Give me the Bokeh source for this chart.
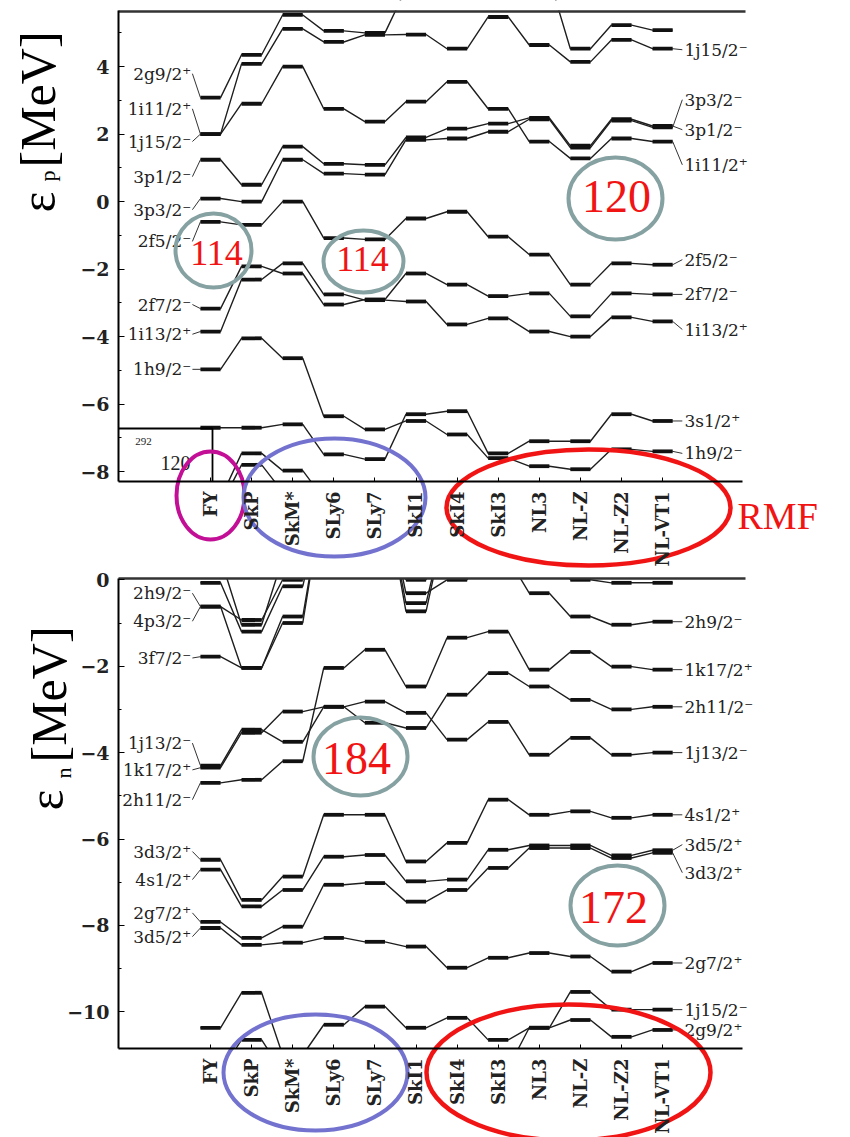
import numpy as np
from bokeh.plotting import figure
from bokeh.models import Range1d, FixedTicker, SingleIntervalTicker, LinearAxis
from bokeh.embed import file_html
from bokeh.resources import INLINE
from bokeh.core.properties import value

# ---------------- data ----------------
models = ["FY", "SkP", "SkM*", "SLy6", "SLy7", "SkI1", "SkI4", "SkI3",
          "NL3", "NL-Z", "NL-Z2", "NL-VT1"]

# proton single-particle energies (MeV), one value per model
p_2g9_2  = [3.08, 4.35, 5.53, 5.06, 5.00, 6.30, 6.60, 6.90, 6.60, 4.53, 5.23, 5.08]
p_1j15_2 = [2.00, 4.08, 5.12, 4.73, 4.94, 4.95, 4.53, 5.47, 4.64, 4.14, 4.79, 4.53]
p_1i11_2 = [2.00, 2.90, 4.00, 2.75, 2.37, 2.96, 3.55, 2.75, 1.78, 1.28, 1.87, 1.78]
p_3p1_2  = [1.24, 0.50, 1.63, 1.12, 1.09, 1.90, 2.16, 2.31, 2.48, 1.66, 2.44, 2.24]
p_3p3_2  = [0.09, 0.00, 1.24, 0.83, 0.80, 1.83, 1.87, 2.07, 2.44, 1.60, 2.40, 2.20]
p_2f5_2  = [-0.60, -0.69, 0.00, -1.08, -1.12, -0.50, -0.30, -1.04, -1.57, -2.46, -1.83, -1.87]
p_2f7_2  = [-3.17, -1.92, -2.13, -3.05, -2.90, -2.13, -2.46, -2.80, -2.72, -3.40, -2.72, -2.75]
p_1i13_2 = [-3.85, -2.31, -1.83, -2.75, -2.92, -2.96, -3.64, -3.46, -3.85, -4.00, -3.43, -3.55]
p_1h9_2  = [-4.97, -4.05, -4.64, -6.36, -6.75, -6.50, -6.90, -7.60, -7.84, -7.93, -7.34, -7.40]
p_3s1_2  = [-6.70, -6.70, -6.60, -7.49, -7.63, -6.30, -6.21, -7.46, -7.10, -7.10, -6.30, -6.50]
p_deep1  = [-8.80, -7.46, -7.97, -8.80, -8.90, -9.00, -9.00, -9.00, -9.00, -9.00, -9.00, -9.00]
p_deep2  = [-9.00, -7.80, -8.60, -9.00, -9.00, -9.00, -9.00, -9.00, -9.00, -9.00, -9.00, -9.00]

# neutron single-particle energies (MeV)
n_top1   = [-0.62, -0.93, 0.00, 2.00, 2.00, 0.00, 1.50, 0.50, -0.31, -0.85, -1.04, -0.97]
n_top2   = [-0.62, -2.04, -0.85, 2.00, 2.00, -0.31, 0.00, 1.00, 1.00, 0.00, -0.07, -0.07]
n_top3   = [-1.78, -2.04, -1.00, 2.00, 2.00, -0.54, 1.50, 1.50, 1.50, 0.50, 0.50, 0.50]
n_top4   = [-0.07, -1.20, -0.15, 2.00, 2.00, -0.73, 1.50, 1.50, 1.50, 1.50, 1.50, 1.50]
n_top5   = [0.50, -1.04, 0.50, 2.00, 2.00, 0.50, 1.50, 1.50, 1.50, 1.50, 1.50, 1.50]
n_mid1   = [-4.70, -4.63, -4.20, -2.04, -1.62, -2.47, -1.34, -1.20, -2.08, -1.67, -2.01, -2.08]
n_mid2   = [-4.35, -3.54, -3.05, -2.94, -2.82, -3.08, -3.70, -3.29, -4.05, -3.66, -4.05, -4.00]
n_mid3   = [-4.30, -3.47, -3.75, -2.94, -3.31, -3.43, -2.66, -2.16, -2.47, -2.78, -3.00, -2.94]
n_4s1_2  = [-6.48, -7.41, -6.87, -5.44, -5.44, -6.52, -6.09, -5.09, -5.44, -5.36, -5.51, -5.44]
n_3d5_2  = [-6.71, -7.56, -7.18, -6.41, -6.37, -6.98, -6.94, -6.25, -6.15, -6.15, -6.38, -6.26]
n_3d3_2  = [-7.92, -8.29, -8.03, -7.06, -7.02, -7.45, -7.18, -6.67, -6.21, -6.21, -6.44, -6.32]
n_2g7_2  = [-8.06, -8.45, -8.40, -8.29, -8.38, -8.49, -8.98, -8.75, -8.64, -8.72, -9.07, -8.87]
n_1j15_2 = [-10.37, -9.56, -11.00, -10.30, -9.88, -10.37, -10.14, -10.65, -10.37, -9.54, -9.95, -9.95]
n_2g9_2  = [-11.40, -10.65, -11.40, -11.40, -11.40, -11.40, -11.40, -11.30, -10.37, -10.19, -10.58, -10.42]

proton_levels = [p_2g9_2, p_1j15_2, p_1i11_2, p_3p1_2, p_3p3_2, p_2f5_2, p_2f7_2,
                 p_1i13_2, p_1h9_2, p_3s1_2, p_deep1, p_deep2]
neutron_levels = [n_top1, n_top2, n_top3, n_top4, n_top5, n_mid1, n_mid2, n_mid3,
                  n_4s1_2, n_3d5_2, n_3d3_2, n_2g7_2, n_1j15_2, n_2g9_2]

# level labels: (text, level, label height in MeV)
p_left = [("2g9/2⁺", p_2g9_2, 3.79), ("1i11/2⁺", p_1i11_2, 2.75), ("1j15/2⁻", p_1j15_2, 1.78),
          ("3p1/2⁻", p_3p1_2, 0.74), ("3p3/2⁻", p_3p3_2, -0.24), ("2f5/2⁻", p_2f5_2, -1.18),
          ("2f7/2⁻", p_2f7_2, -3.05), ("1i13/2⁺", p_1i13_2, -3.93), ("1h9/2⁻", p_1h9_2, -4.97)]
p_right = [("1j15/2⁻", p_1j15_2, 4.50), ("3p3/2⁻", p_3p3_2, 3.02), ("3p1/2⁻", p_3p1_2, 2.13),
           ("1i11/2⁺", p_1i11_2, 1.09), ("2f5/2⁻", p_2f5_2, -1.72), ("2f7/2⁻", p_2f7_2, -2.75),
           ("1i13/2⁺", p_1i13_2, -3.79), ("3s1/2⁺", p_3s1_2, -6.50), ("1h9/2⁻", p_1h9_2, -7.46)]
n_left = [("2h9/2⁻", n_top1, -0.31), ("4p3/2⁻", n_top2, -0.96), ("3f7/2⁻", n_top3, -1.81),
          ("1j13/2⁻", n_mid3, -3.78), ("1k17/2⁺", n_mid2, -4.40), ("2h11/2⁻", n_mid1, -5.09),
          ("3d3/2⁺", n_4s1_2, -6.29), ("4s1/2⁺", n_3d5_2, -6.94), ("2g7/2⁺", n_3d3_2, -7.71),
          ("3d5/2⁺", n_2g7_2, -8.26)]
n_right = [("2h9/2⁻", n_top1, -0.97), ("1k17/2⁺", n_mid1, -2.08), ("2h11/2⁻", n_mid3, -2.94),
           ("1j13/2⁻", n_mid2, -4.00), ("4s1/2⁺", n_4s1_2, -5.44), ("3d5/2⁺", n_3d5_2, -6.13),
           ("3d3/2⁺", n_3d3_2, -6.78), ("2g7/2⁺", n_2g7_2, -8.87), ("1j15/2⁻", n_1j15_2, -9.95),
           ("2g9/2⁺", n_2g9_2, -10.42)]

# ---------------- geometry / style ----------------
PX = 41.1                      # px per model step
XMIN = -2.238                  # left edge of the boxes (model units)
HW = 0.245                     # half width of a level bar
P_Y0, P_Y1 = -8.29, 5.66       # proton box (MeV)
N_Y0, N_Y1 = -10.85, 0.03      # neutron box (MeV)
LEVEL_FONT = value("DejaVu Serif")
SERIF = value("Liberation Serif")
GRAY, RED, BLUE, MAG = "#86a1a1", "#f01414", "#7373cf", "#c20f96"

fx = lambda px: (px - 210.0) / PX
fy_top = lambda py: (201.1 - py) / 33.75
fy_bot = lambda py: (579.3 - py) / 43.2
XEND = fx(742)                 # right end of the axis / top lines

p = figure(width=850, height=1137,
           x_range=Range1d(fx(0), fx(850)), y_range=Range1d(fy_top(1137), fy_top(0)),
           min_border=0, output_backend="svg", toolbar_location=None)
p.extra_y_ranges = {"n": Range1d(fy_bot(1137), fy_bot(0))}
p.outline_line_color = None
p.grid.visible = False
p.background_fill_color = "white"
p.border_fill_color = "white"


def style_xaxis(ax, yloc):
    ax.fixed_location = yloc
    ax.ticker = FixedTicker(ticks=list(range(len(models))))
    ax.major_label_overrides = {i: m for i, m in enumerate(models)}
    ax.major_label_orientation = np.pi / 2
    ax.bounds = (XMIN, XEND)
    ax.axis_line_width = 2
    ax.major_tick_in = 4
    ax.major_tick_out = 0
    ax.minor_tick_line_color = None
    ax.major_label_text_font = "DejaVu Serif"
    ax.major_label_text_font_size = "18px"
    ax.major_label_text_font_style = "bold"
    ax.major_label_text_color = "#222222"
    ax.major_label_standoff = 10


def style_yaxis(ay, bounds):
    ay.fixed_location = XMIN
    ay.bounds = bounds
    ay.ticker = SingleIntervalTicker(interval=2, num_minor_ticks=2)
    ay.axis_line_width = 2
    ay.major_tick_in = 6
    ay.major_tick_out = 0
    ay.minor_tick_in = 3
    ay.minor_tick_out = 0
    ay.major_label_text_font = "DejaVu Serif"
    ay.major_label_text_font_size = "19px"
    ay.major_label_text_font_style = "bold"
    ay.major_label_text_color = "#222222"
    ay.major_label_standoff = 9


style_xaxis(p.xaxis[0], P_Y0)
style_yaxis(p.yaxis[0], (P_Y0, P_Y1))
xb = LinearAxis(y_range_name="n")
style_xaxis(xb, N_Y0)
p.add_layout(xb, "below")
yb = LinearAxis(y_range_name="n")
style_yaxis(yb, (N_Y0, N_Y1))
p.add_layout(yb, "left")


def draw_levels(levels, rn):
    xs_all, ys_all, x0, x1, yy = [], [], [], [], []
    for E in levels:
        xs, ys = [], []
        for i, e in enumerate(E):
            xs += [i - HW, i + HW]
            ys += [e, e]
            x0.append(i - HW); x1.append(i + HW); yy.append(e)
        xs_all.append(xs); ys_all.append(ys)
    p.multi_line(xs_all, ys_all, line_color="#1e1e1e", line_width=1.4, y_range_name=rn)
    p.segment(x0=x0, y0=yy, x1=x1, y1=yy, line_color="#111111", line_width=3.8, y_range_name=rn)


def draw_labels(left, right, rn):
    last = len(models) - 1
    p.text(x=[-0.47] * len(left), y=[l[2] for l in left], text=[l[0] for l in left],
           text_font=LEVEL_FONT, text_font_size="17px", text_align="right",
           text_baseline="middle", text_color="#222222", y_range_name=rn)
    p.segment(x0=[-0.44] * len(left), y0=[l[2] for l in left],
              x1=[-HW] * len(left), y1=[l[1][0] for l in left],
              line_color="#333333", line_width=1, y_range_name=rn)
    p.text(x=[last + 0.53] * len(right), y=[r[2] for r in right], text=[r[0] for r in right],
           text_font=LEVEL_FONT, text_font_size="17px", text_align="left",
           text_baseline="middle", text_color="#222222", y_range_name=rn)
    p.segment(x0=[last + HW] * len(right), y0=[r[1][-1] for r in right],
              x1=[last + 0.48] * len(right), y1=[r[2] for r in right],
              line_color="#333333", line_width=1, y_range_name=rn)


def ring(cx, cy, rx, ry, color, width, fy, sy, rn):
    p.ellipse(x=[fx(cx)], y=[fy(cy)], width=[2 * rx / PX], height=[2 * ry / sy],
              fill_color=None, line_color=color, line_width=width, y_range_name=rn)


def txt(x, y, s, size, color, rn, align="center", angle=0.0, font=SERIF):
    p.text(x=[x], y=[y], text=[s], text_font=font, text_font_size=size, text_color=color,
           text_align=align, text_baseline="middle", angle=angle, y_range_name=rn)


# level diagrams
draw_levels(proton_levels, "default")
draw_levels(neutron_levels, "n")

# white masks hiding the parts of levels that run outside the two boxes
p.quad(left=fx(0), right=fx(850), bottom=P_Y1, top=fy_top(0), fill_color="white", line_color=None)
p.quad(left=fx(0), right=fx(850), bottom=fy_top(578), top=P_Y0, fill_color="white", line_color=None)
p.quad(left=fx(0), right=fx(850), bottom=fy_bot(1137), top=N_Y0, fill_color="white",
       line_color=None, y_range_name="n")

# top edges of the boxes
p.line([XMIN, fx(745)], [P_Y1 - 0.03, P_Y1 - 0.03], line_color="#333333", line_width=2.5)
p.line([XMIN, fx(745)], [N_Y1, N_Y1], line_color="#333333", line_width=2.5, y_range_name="n")

draw_labels(p_left, p_right, "default")
draw_labels(n_left, n_right, "n")

# inset with the nucleus
p.line([XMIN, fx(212), fx(212)], [fy_top(428), fy_top(428), P_Y0], line_color="black", line_width=1.8)
txt(fx(143), fy_top(441), "292", "11px", "#222222", "default")
txt(fx(160), fy_top(462), "120", "20px", "#222222", "default", align="left")

# proton annotations
ring(213, 250, 38, 37, GRAY, 4, fy_top, 33.75, "default")
ring(363, 261, 40, 31, GRAY, 4, fy_top, 33.75, "default")
ring(615, 198, 47, 41, GRAY, 4, fy_top, 33.75, "default")
txt(fx(216), fy_top(252), "114", "36px", RED, "default")
txt(fx(362), fy_top(258), "114", "36px", RED, "default")
txt(fx(616), fy_top(196), "120", "46px", RED, "default")
ring(210, 495, 34, 44, MAG, 4, fy_top, 33.75, "default")
ring(334, 497, 91, 59, BLUE, 4, fy_top, 33.75, "default")
ring(588, 507, 142, 58, RED, 4.5, fy_top, 33.75, "default")
txt(fx(737), fy_top(515), "RMF", "38px", RED, "default", align="left")
txt(fx(37), fy_top(212), "ε", "50px", "black", "default", align="left", angle=np.pi / 2)
txt(fx(47), fy_top(181), "p", "22px", "black", "default", align="left", angle=np.pi / 2)
txt(fx(37), fy_top(167), "[MeV]", "50px", "black", "default", align="left", angle=np.pi / 2)

# neutron annotations
ring(360, 756, 47, 39, GRAY, 4, fy_bot, 43.2, "n")
ring(617, 905, 47, 40, GRAY, 4, fy_bot, 43.2, "n")
txt(fx(356), fy_bot(758), "184", "46px", RED, "n")
txt(fx(613), fy_bot(907), "172", "46px", RED, "n")
ring(315, 1072, 92, 58, BLUE, 4, fy_bot, 43.2, "n")
ring(568, 1072, 142, 68, RED, 4.5, fy_bot, 43.2, "n")
txt(fx(45), fy_bot(810), "ε", "50px", "black", "n", align="left", angle=np.pi / 2)
txt(fx(63), fy_bot(778), "n", "22px", "black", "n", align="left", angle=np.pi / 2)
txt(fx(48), fy_bot(762), "[MeV]", "50px", "black", "n", align="left", angle=np.pi / 2)

open("out.html", "w").write(file_html(p, INLINE))
